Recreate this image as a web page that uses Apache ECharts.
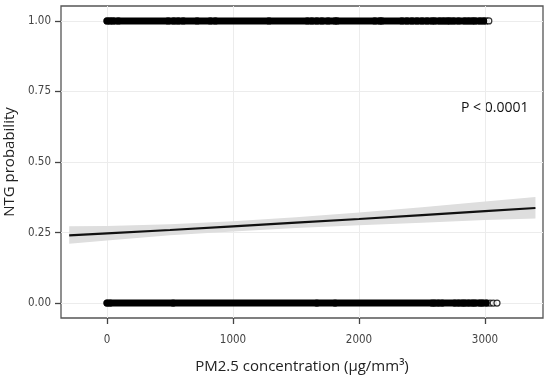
<!DOCTYPE html>
<html>
<head>
<meta charset="utf-8">
<script src="https://cdn.jsdelivr.net/npm/echarts@6/dist/echarts.min.js"></script>
<style>html,body{margin:0;padding:0;background:#fff;}#c{width:550px;height:377px;}</style>
</head>
<body>
<div id="c"></div>
<script>
// ---- data ----
var xTicks = [0, 1000, 2000, 3000];
var yTicks = [0, 0.25, 0.5, 0.75, 1];
// fitted curve and confidence band
var fitX = [-300, 0, 500, 1000, 1500, 2000, 2500, 3000, 3400];
var fitY = [0.240, 0.247, 0.259, 0.272, 0.285, 0.298, 0.312, 0.326, 0.337];
var ciLow = [0.210, 0.222, 0.240, 0.254, 0.266, 0.276, 0.285, 0.294, 0.300];
var ciHigh = [0.272, 0.273, 0.279, 0.290, 0.304, 0.321, 0.340, 0.360, 0.376];
// observations: dense extent and individually visible points
var ntgYesDense = [0, 2990];
var ntgYesSparse = [0, 25, 50, 90, 485, 530, 565, 605, 715, 820, 860, 1285, 1590, 1625, 1665, 1705, 1755, 1810, 1825, 2125, 2165, 2180, 2340, 2380, 2420, 2460, 2500, 2540, 2580, 2600, 2640, 2670, 2700, 2720, 2750, 2790, 2840, 2870, 2900, 2920, 2960, 2990, 3010, 3030];
var ntgNoDense = [0, 3010];
var ntgNoSparse = [0, 25, 525, 1665, 1810, 2580, 2600, 2630, 2660, 2760, 2790, 2820, 2840, 2870, 2900, 2920, 2960, 2980, 3015, 3040, 3065, 3095];
var pText = 'P < 0.0001';

var chart = echarts.init(document.getElementById('c'));
var narrow = '"Liberation Sans Narrow", "DejaVu Sans Condensed", sans-serif';
function pairs(xs, ys) { return xs.map(function (x, i) { return [x, ys[i]]; }); }
function row(xs, y) { return xs.map(function (x) { return [x, y]; }); }

var option = {
  animation: false,
  backgroundColor: '#fff',
  grid: { left: 61, right: 7, top: 6, bottom: 59, containLabel: false, outerBoundsMode: 'none',
    show: true, borderColor: '#555', borderWidth: 1.3, backgroundColor: 'transparent' },
  xAxis: {
    type: 'value', min: -365, max: 3460,
    name: 'PM2.5 concentration (μg/mm³)', nameLocation: 'middle', nameGap: 41,
    nameTextStyle: { fontFamily: '"Open Sans", sans-serif', fontSize: 15, color: '#222' },
    axisLine: { show: false, onZero: false },
    axisTick: { show: true, length: 6, lineStyle: { color: '#444', width: 1.3 }, customValues: xTicks },
    axisLabel: { customValues: xTicks, fontFamily: narrow, fontSize: 11.5, color: '#444', margin: 16,
      formatter: function (v) { return String(v); } },
    splitLine: { show: true, lineStyle: { color: '#ececec', width: 1 } }
  },
  yAxis: {
    type: 'value', min: -0.053, max: 1.053,
    name: 'NTG probability', nameLocation: 'middle', nameGap: 43,
    nameTextStyle: { fontFamily: '"Open Sans", sans-serif', fontSize: 15, color: '#222' },
    axisLine: { show: false, onZero: false },
    axisTick: { show: true, length: 6, lineStyle: { color: '#444', width: 1.3 }, customValues: yTicks },
    axisLabel: { customValues: yTicks, fontFamily: narrow, fontSize: 11.5, color: '#444', margin: 10,
      formatter: function (v) { return v.toFixed(2); } },
    splitLine: { show: true, lineStyle: { color: '#ececec', width: 1 } }
  },
  series: [
    { type: 'custom', data: pairs(fitX, fitY), silent: true,
      renderItem: function (params, api) {
        if (params.dataIndex !== 0) return null;
        var pts = [];
        for (var i = 0; i < fitX.length; i++) pts.push(api.coord([fitX[i], ciHigh[i]]));
        for (var j = fitX.length - 1; j >= 0; j--) pts.push(api.coord([fitX[j], ciLow[j]]));
        return { type: 'polygon', shape: { points: pts }, style: { fill: '#dedede' } };
      }
    },
    { type: 'line', data: pairs(fitX, fitY), symbol: 'none', lineStyle: { color: '#111', width: 2.2 } },
    { type: 'line', data: row(ntgYesDense, 1), symbol: 'none', lineStyle: { color: '#000', width: 7, cap: 'round' } },
    { type: 'line', data: row(ntgNoDense, 0), symbol: 'none', lineStyle: { color: '#000', width: 7, cap: 'round' } },
    { type: 'scatter', data: row(ntgYesSparse, 1), symbol: 'circle', symbolSize: 6,
      itemStyle: { color: '#fff', borderColor: '#000', borderWidth: 1.2 } },
    { type: 'scatter', data: row(ntgNoSparse, 0), symbol: 'circle', symbolSize: 6,
      itemStyle: { color: '#fff', borderColor: '#000', borderWidth: 1.2 } }
  ],
  graphic: [
    { type: 'text', left: 461, top: 101, style: { text: pText, fontFamily: '"Open Sans", sans-serif', fontSize: 14, fill: '#111' } }
  ]
};
chart.setOption(option);
</script>
</body>
</html>
